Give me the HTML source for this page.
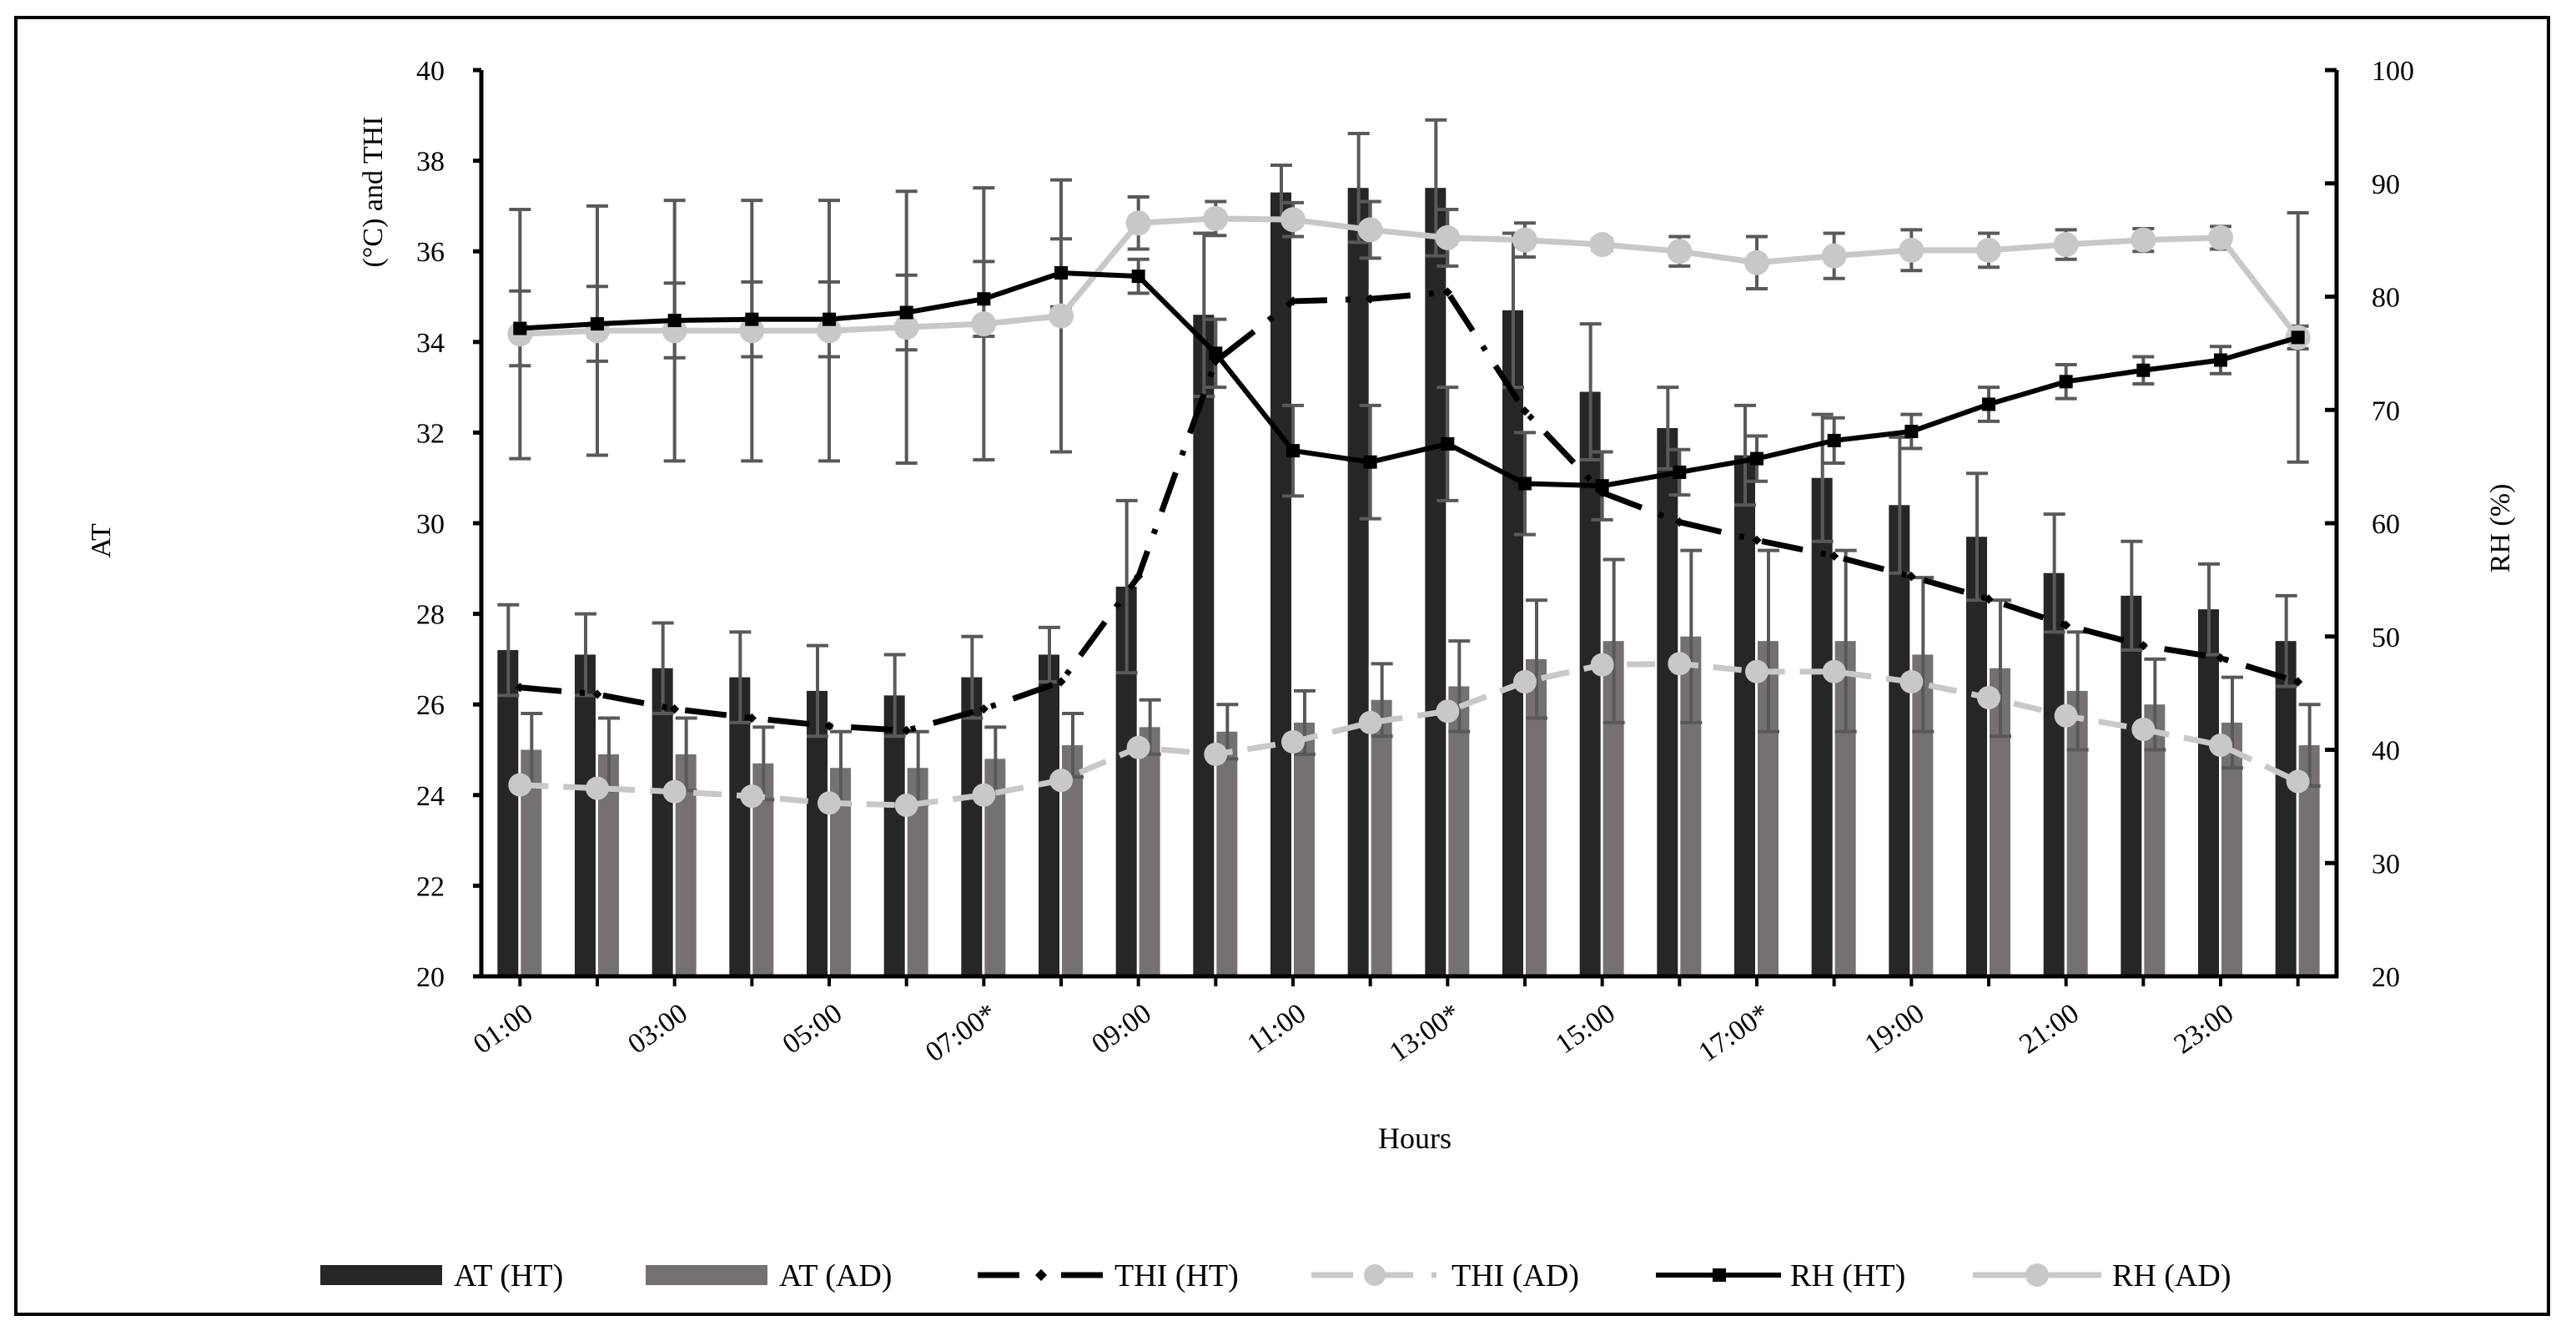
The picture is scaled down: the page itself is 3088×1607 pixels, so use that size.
<!DOCTYPE html>
<html><head><meta charset="utf-8">
<style>
html,body{margin:0;padding:0;background:#fff;}
svg{display:block;font-family:"Liberation Serif",serif;}
</style></head>
<body>
<svg id="chart" width="3088" height="1607" viewBox="0 0 3088 1607" xmlns="http://www.w3.org/2000/svg">
<rect x="19" y="21" width="3036" height="1554" fill="#fff" stroke="#000" stroke-width="4"/>
<g id="plot"></g>
</svg>
<script>
const categories = ["01:00","02:00","03:00","04:00","05:00","06:00","07:00*","08:00","09:00","10:00","11:00","12:00","13:00*","14:00","15:00","16:00","17:00*","18:00","19:00","20:00","21:00","22:00","23:00","24:00"];
const atHT = [27.2,27.1,26.8,26.6,26.3,26.2,26.6,27.1,28.6,34.6,37.3,37.4,37.4,34.7,32.9,32.1,31.5,31.0,30.4,29.7,28.9,28.4,28.1,27.4];
const atHTErr = [1.0,0.9,1.0,1.0,1.0,0.9,0.9,0.6,1.9,1.8,0.6,1.2,1.5,1.7,1.5,0.9,1.1,1.4,1.5,1.4,1.3,1.2,1.0,1.0];
const atAD = [25.0,24.9,24.9,24.7,24.6,24.6,24.8,25.1,25.5,25.4,25.6,26.1,26.4,27.0,27.4,27.5,27.4,27.4,27.1,26.8,26.3,26.0,25.6,25.1];
const atADErr = [0.8,0.8,0.8,0.8,0.8,0.8,0.7,0.7,0.6,0.6,0.7,0.8,1.0,1.3,1.8,1.9,2.0,2.0,1.7,1.5,1.3,1.0,1.0,0.9];
const thiHT = [45.5,44.9,43.6,42.8,42.1,41.7,43.6,46.0,55.3,74.3,79.6,79.8,80.4,69.9,62.7,60.1,58.5,57.1,55.3,53.3,51.0,49.2,48.1,46.0];
const thiAD = [36.9,36.6,36.3,35.9,35.3,35.1,36.0,37.3,40.2,39.6,40.7,42.4,43.4,46.0,47.5,47.6,46.9,46.9,46.0,44.6,43.0,41.8,40.4,37.2];
const rhHT = [77.2,77.6,77.9,78.0,78.0,78.6,79.8,82.1,81.8,75.0,66.4,65.4,67.0,63.5,63.3,64.5,65.7,67.3,68.1,70.5,72.5,73.5,74.4,76.4];
const rhHTErr = [3.3,3.3,3.3,3.3,3.3,3.3,3.3,3.0,1.5,3.0,4.0,5.0,5.0,4.5,3.0,2.0,2.0,2.0,1.5,1.5,1.5,1.2,1.2,1.0];
const rhAD = [76.7,77.0,77.0,77.0,77.0,77.3,77.6,78.3,86.5,86.9,86.8,85.9,85.2,85.0,84.6,84.0,83.0,83.6,84.1,84.1,84.6,85.0,85.2,76.4];
const rhADErr = [11,11,11.5,11.5,11.5,12,12,12,2.3,1.5,1.5,2.5,2.5,1.5,0.5,1.3,2.3,2.0,1.8,1.5,1.3,1.0,1.0,11];
const leftTicks = [20,22,24,26,28,30,32,34,36,38,40];
const rightTicks = [20,30,40,50,60,70,80,90,100];

const NS = "http://www.w3.org/2000/svg";
const plot = document.getElementById('plot');
const X0 = 577, X1 = 2801, YT = 84, YB = 1170;
const step = (X1 - X0) / categories.length;
function xc(i){ return X0 + (i + 0.5) * step; }
function yL(v){ return YB - (v - 20) / 20 * (YB - YT); }
function yR(v){ return YB - (v - 20) / 80 * (YB - YT); }
function mk(tag, attrs, parent){
  const e = document.createElementNS(NS, tag);
  for (const k in attrs) e.setAttribute(k, attrs[k]);
  (parent || plot).appendChild(e);
  return e;
}
function errBar(x, y1, y2, g){
  mk('line', {x1:x, x2:x, y1:y1, y2:y2, stroke:'#595959', 'stroke-width':4}, g);
  mk('line', {x1:x-13, x2:x+13, y1:y1, y2:y1, stroke:'#595959', 'stroke-width':4}, g);
  mk('line', {x1:x-13, x2:x+13, y1:y2, y2:y2, stroke:'#595959', 'stroke-width':4}, g);
}

// bars
const gBars = mk('g', {});


categories.forEach((c, i) => {
  const x = xc(i);
  const b1 = mk('rect', {x:x-27, y:yL(atHT[i]), width:25, height:YB-yL(atHT[i]), fill:'#262626'}, gBars);
  
  
  const b2 = mk('rect', {x:x+1, y:yL(atAD[i]), width:25, height:YB-yL(atAD[i]), fill:'#767171'}, gBars);
  
  
});
categories.forEach((c, i) => {
  const x = xc(i);
  errBar(x-14, yL(atHT[i]+atHTErr[i]), yL(atHT[i]-atHTErr[i]), gBars);
  errBar(x+14, yL(atAD[i]+atADErr[i]), yL(atAD[i]-atADErr[i]), gBars);
  errBar(x, yR(rhHT[i]+rhHTErr[i]), yR(rhHT[i]-rhHTErr[i]), gBars);
  errBar(x, yR(rhAD[i]+rhADErr[i]), yR(rhAD[i]-rhADErr[i]), gBars);
});

function pts(arr){ return arr.map((v,i)=>xc(i)+','+yR(v)).join(' '); }
// THI AD
const gThiAD = mk('g', {});


mk('polyline', {points:pts(thiAD), fill:'none', stroke:'#c8c8c8', 'stroke-width':7, 'stroke-dasharray':'34 18'}, gThiAD);
thiAD.forEach((v,i)=>{ const p = mk('circle', {cx:xc(i), cy:yR(v), r:14, fill:'#c8c8c8'}, gThiAD);
  
   });
// THI HT
const gThiHT = mk('g', {});


mk('polyline', {points:pts(thiHT), fill:'none', stroke:'#000', 'stroke-width':7, 'stroke-dasharray':'50 22 6 22'}, gThiHT);
thiHT.forEach((v,i)=>{ const p = mk('rect', {x:xc(i)-4, y:yR(v)-4, width:8, height:8, fill:'#000', transform:`rotate(45 ${xc(i)} ${yR(v)})`}, gThiHT);
  
   });
// RH AD
const gRhAD = mk('g', {});


mk('polyline', {points:pts(rhAD), fill:'none', stroke:'#c8c8c8', 'stroke-width':7}, gRhAD);
rhAD.forEach((v,i)=>{ const p = mk('circle', {cx:xc(i), cy:yR(v), r:15, fill:'#c8c8c8'}, gRhAD);
  
   });
// RH HT
const gRhHT = mk('g', {});


mk('polyline', {points:pts(rhHT), fill:'none', stroke:'#000', 'stroke-width':6}, gRhHT);
rhHT.forEach((v,i)=>{ const p = mk('rect', {x:xc(i)-8, y:yR(v)-8, width:16, height:16, fill:'#000'}, gRhHT);
  
   });

// axes
const gAx = mk('g', {});


mk('line', {x1:X0, x2:X0, y1:YT, y2:YB+2, stroke:'#000', 'stroke-width':5}, gAx);
mk('line', {x1:X1, x2:X1, y1:YT, y2:YB+2, stroke:'#000', 'stroke-width':5}, gAx);
mk('line', {x1:X0, x2:X1+2, y1:YB, y2:YB, stroke:'#000', 'stroke-width':5}, gAx);
leftTicks.forEach(v=>{
  mk('line', {x1:X0-10, x2:X0, y1:yL(v), y2:yL(v), stroke:'#000', 'stroke-width':5}, gAx);
  const t = mk('text', {x:X0-44, y:yL(v)+12, 'text-anchor':'end', 'font-size':34, fill:'#000'}, gAx);
  t.textContent = v;
  
  
});
rightTicks.forEach(v=>{
  mk('line', {x1:X1-14, x2:X1, y1:yR(v), y2:yR(v), stroke:'#000', 'stroke-width':5}, gAx);
  const t = mk('text', {x:X1+42, y:yR(v)+12, 'text-anchor':'start', 'font-size':34, fill:'#000'}, gAx);
  t.textContent = v;
  
  
});
categories.forEach((c,i)=>{
  mk('line', {x1:xc(i), x2:xc(i), y1:YB, y2:YB+12, stroke:'#000', 'stroke-width':4}, gAx);
  if (i % 2 === 0){
    const x = xc(i)+4, y = YB+30;
    const t = mk('text', {x:x, y:y, 'text-anchor':'end', 'font-size':34, fill:'#000', transform:`rotate(-35 ${x} ${y})`, dy:'0.7em'}, gAx);
    t.textContent = c;
    
    
  }
});
</script>
<svg width="0" height="0" style="position:absolute"></svg>
<script>
(function(){
const svg = document.getElementById('chart');
const NS = "http://www.w3.org/2000/svg";
function add(tag, attrs){ const e=document.createElementNS(NS,tag); for(const k in attrs) e.setAttribute(k, attrs[k]); svg.appendChild(e); return e; }
let t;
t = add('text', {x:0, y:0, 'font-size':34, 'text-anchor':'middle', transform:'translate(458 230) rotate(-90)'});
t.textContent = '(°C) and THI';


t = add('text', {x:0, y:0, 'font-size':34, 'text-anchor':'middle', transform:'translate(132 648) rotate(-90)'});
t.textContent = 'AT';


t = add('text', {x:0, y:0, 'font-size':34, 'text-anchor':'middle', transform:'translate(3008 633) rotate(-90)'});
t.textContent = 'RH (%)';


t = add('text', {x:1696, y:1376, 'font-size':36, 'text-anchor':'middle'});
t.textContent = 'Hours';



const LY = 1528;
const legend = [
 {type:'bar', color:'#262626', x:384, tx:544, label:'AT (HT)'},
 {type:'bar', color:'#767171', x:774, tx:934, label:'AT (AD)'},
 {type:'thiht', x:1172, tx:1336, label:'THI (HT)'},
 {type:'thiad', x:1572, tx:1740, label:'THI (AD)'},
 {type:'rhht', x:1985, tx:2146, label:'RH (HT)'},
 {type:'rhad', x:2365, tx:2532, label:'RH (AD)'}
];
legend.forEach(l=>{
  if (l.type==='bar') add('rect',{x:l.x, y:LY-12, width:146, height:24, fill:l.color});
  else if (l.type==='thiht'){ add('line',{x1:l.x,x2:l.x+150,y1:LY,y2:LY,stroke:'#000','stroke-width':7,'stroke-dasharray':'50 22 6 22'}); add('rect',{x:l.x+71,y:LY-5,width:10,height:10,fill:'#000',transform:`rotate(45 ${l.x+76} ${LY})`}); }
  else if (l.type==='thiad'){ add('line',{x1:l.x,x2:l.x+150,y1:LY,y2:LY,stroke:'#c8c8c8','stroke-width':7,'stroke-dasharray':'50 22'}); add('circle',{cx:l.x+76,cy:LY,r:13,fill:'#c8c8c8'}); }
  else if (l.type==='rhht'){ add('line',{x1:l.x,x2:l.x+150,y1:LY,y2:LY,stroke:'#000','stroke-width':6}); add('rect',{x:l.x+68,y:LY-8,width:16,height:16,fill:'#000'}); }
  else { add('line',{x1:l.x,x2:l.x+154,y1:LY,y2:LY,stroke:'#c8c8c8','stroke-width':7}); add('circle',{cx:l.x+77,cy:LY,r:14,fill:'#c8c8c8'}); }
  const tx = add('text',{x:l.tx, y:LY+13, 'font-size':38});
  tx.textContent = l.label;
  
  
});
})();
</script>
</body></html>
